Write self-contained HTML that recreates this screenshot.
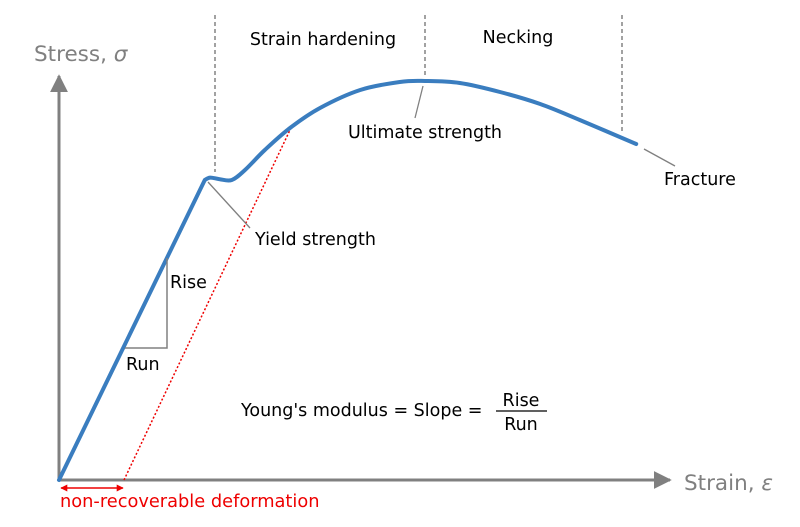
<!DOCTYPE html>
<html><head><meta charset="utf-8"><style>
body{margin:0;background:#fff}
svg text{font-family:"DejaVu Sans","Liberation Sans",sans-serif}
</style></head><body>
<svg id="chart" width="800" height="522" viewBox="0 0 800 522" xmlns="http://www.w3.org/2000/svg">
<defs>
<marker id="ar" viewBox="0 0 10 10" refX="9" refY="5" markerWidth="18" markerHeight="18" markerUnits="userSpaceOnUse" orient="auto"><path d="M0,0L10,5L0,10z" fill="#808080"/></marker>
<marker id="ra" viewBox="0 0 10 10" refX="9" refY="5" markerWidth="7" markerHeight="7" markerUnits="userSpaceOnUse" orient="auto-start-reverse"><path d="M0,0L10,5L0,10z" fill="#e00"/></marker>
</defs>
<line x1="59" y1="480" x2="59" y2="76" stroke="#808080" stroke-width="3" marker-end="url(#ar)"/>
<line x1="59" y1="480" x2="670" y2="480" stroke="#808080" stroke-width="3" marker-end="url(#ar)"/>
<text x="34" y="61" font-size="21.5" fill="#808080">Stress, <tspan font-style="italic">σ</tspan></text>
<text x="684" y="490" font-size="21.5" fill="#808080">Strain, <tspan font-style="italic">ε</tspan></text>
<g id="dash" stroke="#707070" stroke-width="1.3" stroke-dasharray="4,3">
<line x1="215" y1="15" x2="215" y2="172"/>
<line x1="425" y1="15" x2="425" y2="76"/>
<line x1="622" y1="15" x2="622" y2="134"/>
</g>
<text x="323" y="45" font-size="17.5" text-anchor="middle">Strain hardening</text>
<text x="518" y="43" font-size="17.5" text-anchor="middle">Necking</text>
<line x1="124" y1="480" x2="290" y2="130" stroke="#e00" stroke-width="1.5" stroke-dasharray="2,2"/>
<path id="curve" fill="none" stroke="#3a7dbf" stroke-width="4" stroke-linejoin="round" stroke-linecap="round"/>
<g stroke="#808080" stroke-width="1.3" fill="none">
<line x1="208" y1="182" x2="250" y2="228"/>
<line x1="423" y1="86" x2="415" y2="118"/>
<line x1="644" y1="149" x2="675" y2="166"/>
<polyline points="167,258 167,348 125,348" stroke-width="1.5"/>
</g>
<text x="425" y="138" font-size="17.5" text-anchor="middle">Ultimate strength</text>
<text x="664" y="185" font-size="17.5">Fracture</text>
<text x="255" y="245" font-size="17.5">Yield strength</text>
<text x="170" y="288" font-size="17.5">Rise</text>
<text x="126" y="370" font-size="17.5">Run</text>
<g font-size="17.5">
<text x="241" y="416">Young's modulus = Slope =</text>
<text x="521" y="406" text-anchor="middle">Rise</text>
<line x1="496" y1="411" x2="547" y2="411" stroke="#000" stroke-width="1.2"/>
<text x="521" y="430" text-anchor="middle">Run</text>
</g>
<line x1="61" y1="488" x2="123" y2="488" stroke="#e00" stroke-width="1.5" marker-start="url(#ra)" marker-end="url(#ra)"/>
<text x="60" y="507" font-size="17.8" fill="#e00">non-recoverable deformation</text>
</svg>
<script>
const strain=[0,2.43,2.52,2.68,2.88,3.1,3.43,3.85,4.35,5.02,5.68,6.1,6.68,7.35,8.02,8.68,9.62];
const stress=[0,75,75.6,75.2,75,77.5,82.5,88,93,97.5,99.5,99.75,99.25,97,94,90,84];
function xs(v){return 59+v*60;}
function ys(v){return 480-v*4;}
const P=strain.map((s,i)=>[xs(s),ys(stress[i])]);
let d='M'+P[0][0]+','+P[0][1]+' L'+P[1][0]+','+P[1][1];
for(let i=1;i<P.length-1;i++){
  const p0=P[Math.max(i-1,1)],p1=P[i],p2=P[i+1],p3=P[Math.min(i+2,P.length-1)];
  const c1=[p1[0]+(p2[0]-p0[0])/6,p1[1]+(p2[1]-p0[1])/6];
  const c2=[p2[0]-(p3[0]-p1[0])/6,p2[1]-(p3[1]-p1[1])/6];
  d+=' C'+c1.join(',')+' '+c2.join(',')+' '+p2.join(',');
}
document.getElementById('curve').setAttribute('d',d);
</script>
</body></html>
